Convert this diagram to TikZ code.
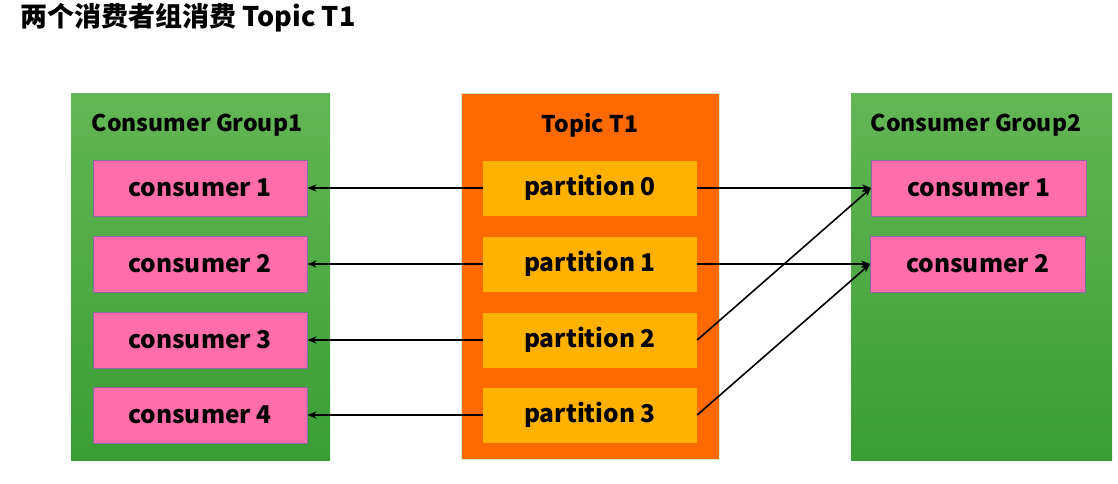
\documentclass[tikz,border=0pt]{standalone}
\usepackage{fontspec}
\setmainfont{Noto Sans CJK SC}
\usetikzlibrary{
  arrows.meta,
  positioning
}
\definecolor{grouptop}{HTML}{64B655}
\definecolor{groupbot}{HTML}{3A9D35}
\definecolor{topicorange}{HTML}{FF6A00}
\definecolor{topicedge}{HTML}{DCE9C6}
\definecolor{partyellow}{HTML}{FFB100}
\definecolor{consumerpink}{HTML}{FF6EAA}
\definecolor{consumeredge}{HTML}{8A6C9C}
\tikzset{
  groupbox/.style={
    top color=grouptop,
    bottom color=groupbot,
    minimum width=259pt,
    minimum height=367pt
  },
  topicbox/.style={
    fill=topicorange,
    draw=topicedge,
    line width=1pt,
    minimum width=258pt,
    minimum height=366pt
  },
  consumerbox/.style={
    fill=consumerpink,
    draw=consumeredge,
    line width=0.8pt,
    minimum width=214pt,
    minimum height=56pt,
    font=\fontsize{24.5}{28}\selectfont\bfseries
  },
  partbox/.style={
    fill=partyellow,
    minimum width=214pt,
    minimum height=55pt,
    font=\fontsize{24.5}{28}\selectfont\bfseries
  },
  boxtitle/.style={
    font=\fontsize{23}{27}\selectfont\bfseries
  },
  feed/.style={
    -{Stealth[length=9pt,width=7pt]},
    line width=1.6pt
  }
}

\begin{document}
\begin{tikzpicture}[x=1pt,y=-1pt]
  \useasboundingbox (0,0) rectangle (1118,483);
  \node[anchor=west, font=\fontsize{27}{32}\selectfont\bfseries] (title) at (17,18) {两个消费者组消费 Topic T1};

  \node[groupbox] (group1) at (200.5,276.5) {};
  \node[topicbox] (topic) at (590,276) {};
  \node[groupbox, minimum width=261pt] (group2) at (981.5,276.5) {};

  \node[boxtitle] (group1title) at (197,125) {Consumer Group1};
  \node[boxtitle] (topictitle) at (590,125) {Topic T1};
  \node[boxtitle] (group2title) at (976,125) {Consumer Group2};

  \foreach \i/\n/\y in {0/1/188,1/2/264,2/3/340,3/4/415}{
    \node[consumerbox] (lc\n) at (200,\y) {consumer \n};
    \node[partbox] (p\i) at (590,\y) {partition \i};
    \draw[feed] (p\i) -- (lc\n);
  }
  \node[consumerbox, minimum width=215pt] (rc1) at (979,188) {consumer 1};
  \node[consumerbox, minimum width=215pt] (rc2) at (978,264) {consumer 2};

  \draw[feed] (p0.east) -- (rc1.west);
  \draw[feed] (p1.east) -- (rc2.west);
  \draw[feed] (p2.east) -- (rc1.west);
  \draw[feed] (p3.east) -- (rc2.west);
\end{tikzpicture}
\end{document}
